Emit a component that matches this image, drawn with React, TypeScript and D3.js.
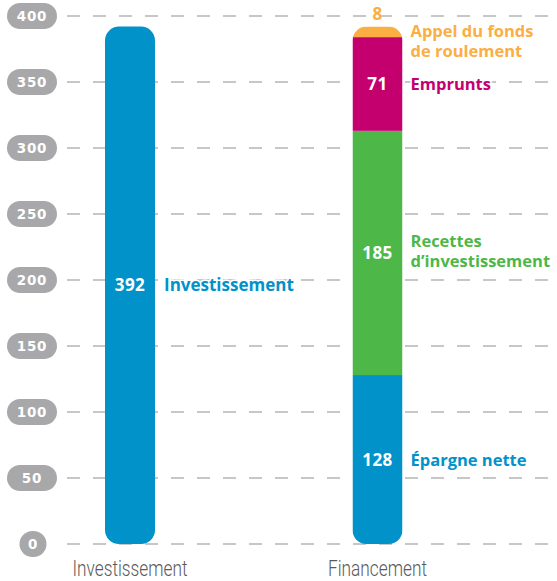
import React from "react";
import * as d3 from "d3";

const categories = ["Investissement", "Financement"];
const investLabel = "Investissement";
const investValue = 392;
const financeSeries = ["Épargne nette", "Recettes d’investissement", "Emprunts", "Appel du fonds de roulement"];
const financeLines = [["Épargne nette"], ["Recettes", "d’investissement"], ["Emprunts"], ["Appel du fonds", "de roulement"]];
const financeValues = [128, 185, 71, 8];
const financeColors = ["#0092c9", "#4db848", "#c4006f", "#fbae42"];
const investColor = "#0092c9";
const yTicks = [0, 50, 100, 150, 200, 250, 300, 350, 400];

const W = 557;
const H = 581;
const BAR_W = 50;
const R = 14;

export default function App() {
  const y = d3.scaleLinear().domain([0, 400]).range([544, 16]);
  const x = d3.scalePoint<string>().domain(categories).range([130, 377.5]);
  const boldFont = "'Open Sans', 'DejaVu Sans', sans-serif";
  const tickFont = "'DejaVu Sans', sans-serif";

  const cum = Array.from(d3.cumsum(financeValues));
  const segs = financeValues.map((v, i) => ({
    value: v,
    y0: i === 0 ? 0 : cum[i - 1],
    y1: cum[i],
    color: financeColors[i],
    lines: financeLines[i],
    name: financeSeries[i],
  }));
  const total = cum[cum.length - 1];

  const x1 = x(categories[0])!;
  const x2 = x(categories[1])!;

  const roundedPath = (cx: number, top: number, bottom: number) => {
    const l = cx - BAR_W / 2;
    return `M${l},${top + R} A${R},${R} 0 0 1 ${l + R},${top} L${l + BAR_W - R},${top} A${R},${R} 0 0 1 ${l + BAR_W},${top + R} L${l + BAR_W},${bottom - R} A${R},${R} 0 0 1 ${l + BAR_W - R},${bottom} L${l + R},${bottom} A${R},${R} 0 0 1 ${l},${bottom - R} Z`;
  };

  const haloStyle: React.CSSProperties = { paintOrder: "stroke" } as any;

  return (
    <svg width={W} height={H} style={{ position: "absolute", left: 0, top: 0, background: "#fff" }}>
      <defs>
        <clipPath id="clipFin">
          <path d={roundedPath(x2, y(total), y(0))} />
        </clipPath>
      </defs>
      {/* gridlines */}
      {yTicks.map((t) => (
        <line key={"g" + t} x1={67} x2={W} y1={y(t)} y2={y(t)} stroke="#b5b5b5" strokeWidth={1.6} strokeDasharray="13,13" />
      ))}
      {/* tick pills */}
      {yTicks.map((t) => {
        const w = t === 0 ? 27 : 50;
        const cx = t === 0 ? 33 : 32;
        return (
          <g key={"p" + t}>
            <rect x={cx - w / 2} y={y(t) - 13} width={w} height={26} rx={13} fill="#a8a8aa" />
            <text x={cx} y={y(t) + 5} textAnchor="middle" fill="#fff" fontFamily={tickFont} fontWeight="bold" fontSize={13.5} letterSpacing={0.8}>
              {t}
            </text>
          </g>
        );
      })}
      {/* Investissement bar */}
      <path d={roundedPath(x1, y(investValue), y(0))} fill={investColor} />
      <text x={x1} y={(y(investValue) + y(0)) / 2 + 6} textAnchor="middle" fill="#fff" fontFamily={boldFont} fontWeight={700} fontSize={17} letterSpacing={0.5}>
        {investValue}
      </text>
      <text x={x1 + 34} y={(y(investValue) + y(0)) / 2 + 6} fill={investColor} fontFamily={boldFont} fontWeight={700} fontSize={17} stroke="#fff" strokeWidth={3} style={haloStyle}>
        {investLabel}
      </text>
      {/* Financement stacked bar */}
      <g clipPath="url(#clipFin)">
        {segs.map((s, i) => (
          <rect key={"s" + i} x={x2 - BAR_W / 2} width={BAR_W} y={y(s.y1)} height={y(s.y0) - y(s.y1)} fill={s.color} />
        ))}
      </g>
      {segs.map((s, i) => {
        const mid = (y(s.y0) + y(s.y1)) / 2;
        const isTop = i === segs.length - 1;
        const small = y(s.y0) - y(s.y1) < 20;
        const valY = small ? y(s.y1) - 7 : mid + 6;
        const n = s.lines.length;
        const firstBase = isTop && small ? y(s.y1) + 10 : mid + 6 - ((n - 1) * 19) / 2 - (n > 1 ? 2 : 0);
        return (
          <g key={"l" + i}>
            <text x={x2} y={valY} textAnchor="middle" fill={small ? s.color : "#fff"} fontFamily={boldFont} fontWeight={700} fontSize={17} letterSpacing={0.5}>
              {s.value}
            </text>
            <text fill={s.color} fontFamily={boldFont} fontWeight={700} fontSize={16.5} stroke="#fff" strokeWidth={3} style={haloStyle}>
              {s.lines.map((ln, j) => (
                <tspan key={j} x={x2 + 33} y={firstBase + j * 20}>
                  {ln}
                </tspan>
              ))}
            </text>
          </g>
        );
      })}
      {/* category labels */}
      {categories.map((c) => (
        <text key={"c" + c} x={x(c)} y={576} textAnchor="middle" fill="#5a5a5a" fontFamily="'Liberation Sans Narrow', 'Roboto', sans-serif" fontWeight={300} fontSize={22} textLength={c === "Investissement" ? 115 : 99} lengthAdjust="spacingAndGlyphs">
          {c}
        </text>
      ))}
    </svg>
  );
}
